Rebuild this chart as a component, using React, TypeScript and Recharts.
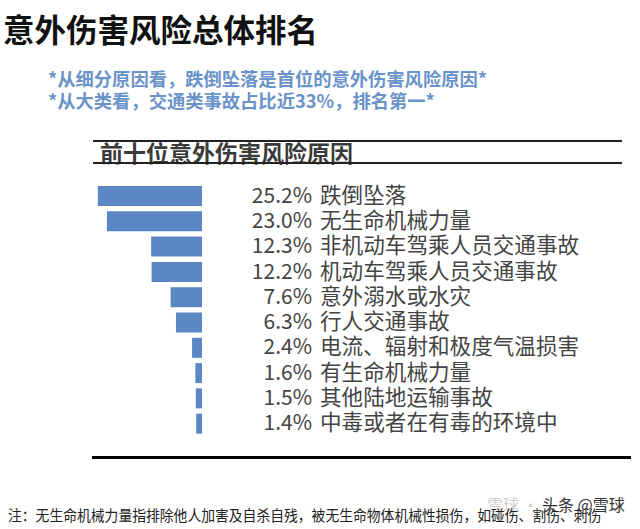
import { BarChart, Bar, XAxis, YAxis } from "recharts";

const causes = [
  "跌倒坠落",
  "无生命机械力量",
  "非机动车驾乘人员交通事故",
  "机动车驾乘人员交通事故",
  "意外溺水或水灾",
  "行人交通事故",
  "电流、辐射和极度气温损害",
  "有生命机械力量",
  "其他陆地运输事故",
  "中毒或者在有毒的环境中",
];
const shares = [25.2, 23.0, 12.3, 12.2, 7.6, 6.3, 2.4, 1.6, 1.5, 1.4];

const data = causes.map((name, i) => ({ name, value: shares[i] }));

const FONT = '"Noto Sans CJK SC", "Noto Sans", sans-serif';

const RowTick = (props: any) => {
  const { x, y, index } = props;
  const row = data[index];
  return (
    <g>
      <text x={x + 102} y={y} dy={7} textAnchor="end" fontSize={21} fill="#444" fontFamily={FONT}>
        {row.value.toFixed(1)}%
      </text>
      <text x={x + 110} y={y} dy={7} textAnchor="start" fontSize={21.6} fill="#444" fontFamily={FONT}>
        {row.name}
      </text>
    </g>
  );
};

const abs = (s: any) => ({ position: "absolute" as const, whiteSpace: "nowrap" as const, fontFamily: FONT, ...s });

export default function App() {
  return (
    <div style={{ position: "absolute", left: 0, top: 0, width: 640, height: 529, background: "#fff", overflow: "hidden" }}>
      <div style={abs({ left: 3, top: 8, fontSize: 31.5, fontWeight: 700, color: "#111", lineHeight: "40px" })}>
        意外伤害风险总体排名
      </div>
      <div style={abs({ left: 48, top: 67, fontSize: 18.3, fontWeight: 700, color: "#6a93c9", lineHeight: "22px" })}>
        *从细分原因看，跌倒坠落是首位的意外伤害风险原因*
        <br />
        *从大类看，交通类事故占比近33%，排名第一*
      </div>
      <div style={abs({ left: 93, top: 140, width: 529, height: 2, background: "#222" })} />
      <div style={abs({ left: 100, top: 138, fontSize: 23, fontWeight: 700, color: "#3a3a3a", lineHeight: "28px" })}>
        前十位意外伤害风险原因
      </div>
      <div style={abs({ left: 93, top: 162, width: 529, height: 2, background: "#222" })} />
      <div style={abs({ left: 92, top: 456, width: 539, height: 3, background: "#000" })} />
      <div style={abs({ left: 487, top: 494, fontSize: 16, color: "#d0d0d0", lineHeight: "20px" })}>
        雪球 ·
      </div>
      <div style={abs({ left: 542, top: 494, fontSize: 16, color: "#333", lineHeight: "20px" })}>
        头条 @雪球
      </div>
      <div style={abs({ left: 8, top: 505, fontSize: 15, color: "#222", transform: "scaleX(0.92)", transformOrigin: "left top", lineHeight: "20px" })}>
        注：无生命机械力量指排除他人加害及自杀自残，被无生命物体机械性损伤，如碰伤、割伤、刺伤
      </div>
      <div style={{ position: "absolute", left: 0, top: 0 }}>
        <BarChart
          width={640}
          height={529}
          data={data}
          layout="vertical"
          margin={{ top: 183, bottom: 93, left: 78, right: 0 }}
        >
          <XAxis type="number" domain={[0, 30]} reversed hide />
          <YAxis
            type="category"
            dataKey="name"
            orientation="right"
            width={438}
            axisLine={false}
            tickLine={false}
            interval={0}
            tick={<RowTick />}
          />
          <Bar dataKey="value" fill="#5b87c5" barSize={20} isAnimationActive={false} />
        </BarChart>
      </div>
    </div>
  );
}
